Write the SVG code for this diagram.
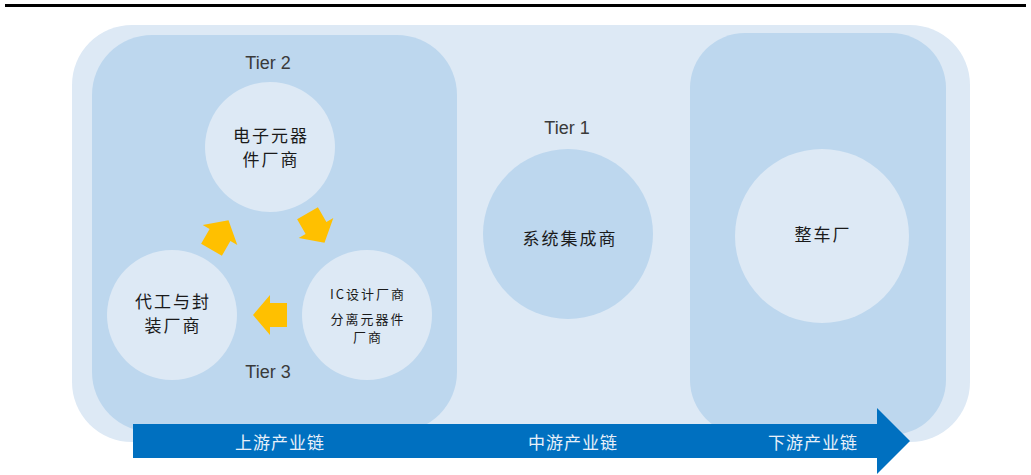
<svg xmlns="http://www.w3.org/2000/svg" width="1031" height="475" viewBox="0 0 1031 475">
<defs>
<style>
.tier{font-family:"Liberation Sans","Noto Sans",sans-serif;font-size:18px;fill:#3a3a3a;text-anchor:middle;dominant-baseline:central}
.cn{font-family:"Noto Sans CJK SC",sans-serif;font-size:17px;fill:#1a1a1a;text-anchor:middle;dominant-baseline:central;letter-spacing:2px}
.cns{font-family:"Noto Sans CJK SC",sans-serif;font-size:13px;fill:#1a1a1a;text-anchor:middle;dominant-baseline:central;letter-spacing:2px}
.band{font-family:"Noto Sans CJK SC",sans-serif;font-size:17px;fill:#e8f0fa;text-anchor:middle;dominant-baseline:central;letter-spacing:1px}
.light{fill:#dde9f5}
.mid{fill:#bdd7ee}
.ya{fill:#ffc000}
</style>
<path id="barrow" d="M0,-17 L20,0 L12,0 L12,17 L-12,17 L-12,0 L-20,0 Z"/>
</defs>
<rect x="5" y="4" width="1021" height="3" fill="#000"/>
<g id="background">
<rect x="72" y="25" width="898" height="417" rx="60" ry="60" class="light"/>
</g>
<g id="upstream">
<rect x="92" y="35" width="365" height="397" rx="60" ry="60" class="mid"/>
<text x="268" y="63" class="tier">Tier 2</text>
<text x="268" y="372" class="tier">Tier 3</text>
</g>
<g id="downstream-box">
<rect x="690" y="33" width="256" height="402" rx="55" ry="55" class="mid"/>
</g>
<g id="n-electronic">
<circle cx="270" cy="147" r="65" class="light"/>
<text x="271" y="134" class="cn">电子元器</text>
<text x="271" y="158" class="cn">件厂商</text>
</g>
<g id="n-foundry">
<circle cx="172" cy="315" r="65" class="light"/>
<text x="173" y="300" class="cn">代工与封</text>
<text x="173" y="324" class="cn">装厂商</text>
</g>
<g id="n-ic">
<circle cx="367" cy="315" r="65" class="light"/>
<text x="368" y="293" class="cns">IC设计厂商</text>
<text x="368" y="318" class="cns">分离元器件</text>
<text x="368" y="336" class="cns">厂商</text>
</g>
<g id="n-tier1">
<text x="567" y="128" class="tier">Tier 1</text>
<circle cx="568" cy="234" r="85" class="mid"/>
<text x="570" y="237" class="cn">系统集成商</text>
</g>
<g id="n-oem">
<circle cx="822" cy="236" r="87" class="light"/>
<text x="823" y="233" class="cn">整车厂</text>
</g>
<g id="connectors">
<use href="#barrow" class="ya" transform="translate(220,235) rotate(30)"/>
<use href="#barrow" class="ya" transform="translate(316,228) rotate(150)"/>
<use href="#barrow" class="ya" transform="translate(270,315) rotate(-90)"/>
</g>
<g id="chain-arrow">
<path d="M133,424 L877,424 L877,408 L910,441 L877,474 L877,458 L133,458 Z" fill="#0070c0"/>
<text x="280" y="441" class="band">上游产业链</text>
<text x="573" y="441" class="band">中游产业链</text>
<text x="813" y="441" class="band">下游产业链</text>
</g>
</svg>
